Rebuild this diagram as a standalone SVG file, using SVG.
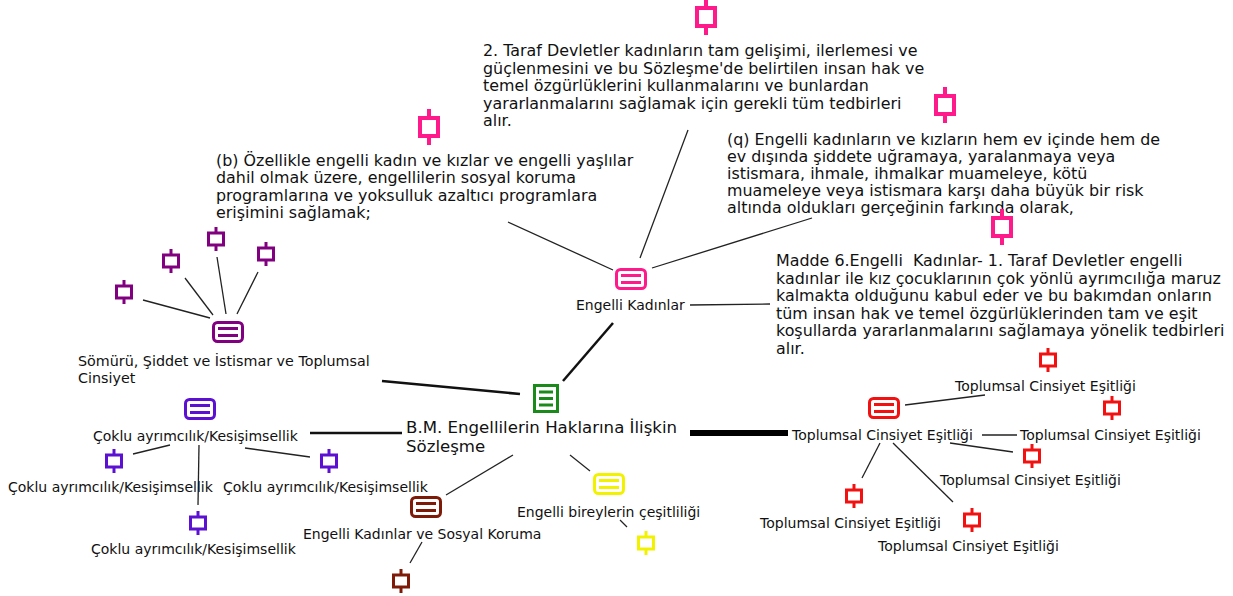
<svg xmlns="http://www.w3.org/2000/svg" width="1233" height="596" viewBox="0 0 1233 596">
<style>
text{font-family:"DejaVu Sans",Verdana,sans-serif;font-size:14px;fill:#111}
.c{font-size:16.6px}
.t{font-size:15.9px}
.s{font-size:14.3px}
.e{stroke:#222;stroke-width:1.3;fill:none}
.e2{stroke:#111;stroke-width:2.5;fill:none}
.e6{stroke:#000;stroke-width:6;fill:none}
</style>
<defs>
<g id="list" fill="#fff" stroke-width="3">
<rect x="-14.5" y="-9.5" width="29" height="19" rx="4"/>
<line x1="-10" y1="-3.5" x2="10" y2="-3.5"/>
<line x1="-10" y1="3.5" x2="10" y2="3.5"/>
</g>
<g id="code" fill="#fff" stroke-width="3">
<line x1="0" y1="-12" x2="0" y2="-7"/>
<line x1="0" y1="7" x2="0" y2="12"/>
<rect x="-7.5" y="-6" width="15" height="12"/>
</g>
<g id="codeB" fill="#fff" stroke-width="4">
<line x1="0" y1="-18" x2="0" y2="-10"/>
<line x1="0" y1="10" x2="0" y2="18"/>
<rect x="-9" y="-9" width="18" height="18"/>
</g>
</defs>
<g id="connectors">
<line class="e2" x1="563" y1="381" x2="613" y2="323"/>
<line class="e2" x1="382" y1="381" x2="520" y2="394"/>
<line class="e2" x1="310" y1="433" x2="402" y2="433"/>
<line class="e6" x1="690" y1="433" x2="788" y2="433"/>
<line class="e" x1="513" y1="455" x2="446" y2="495"/>
<line class="e" x1="570" y1="455" x2="590" y2="471"/>
<line class="e" x1="640" y1="258" x2="688" y2="130"/>
<line class="e" x1="508" y1="222" x2="613" y2="270"/>
<line class="e" x1="652" y1="268" x2="812" y2="218"/>
<line class="e" x1="690" y1="305" x2="770" y2="304"/>
<line class="e" x1="143" y1="300" x2="210" y2="318"/>
<line class="e" x1="185" y1="278" x2="213" y2="315"/>
<line class="e" x1="217" y1="257" x2="226" y2="314"/>
<line class="e" x1="258" y1="272" x2="237" y2="314"/>
<line class="e" x1="133" y1="454" x2="170" y2="445"/>
<line class="e" x1="199" y1="445" x2="198" y2="505"/>
<line class="e" x1="245" y1="448" x2="310" y2="457"/>
<line class="e" x1="422" y1="542" x2="410" y2="563"/>
<line class="e" x1="620" y1="520" x2="627" y2="527"/>
<line class="e" x1="905" y1="405" x2="985" y2="395"/>
<line class="e" x1="982" y1="435" x2="1017" y2="435"/>
<line class="e" x1="950" y1="443" x2="1013" y2="452"/>
<line class="e" x1="880" y1="443" x2="862" y2="478"/>
<line class="e" x1="893" y1="443" x2="953" y2="502"/>
</g>
<g id="n-central">
<rect x="534.5" y="385.5" width="23" height="26" fill="#fff" stroke="#1a8a1a" stroke-width="3"/>
<g stroke="#1a8a1a" stroke-width="3"><line x1="539" y1="392" x2="553" y2="392"/><line x1="539" y1="398.5" x2="553" y2="398.5"/><line x1="539" y1="405" x2="553" y2="405"/></g>
<text class="c" x="406" y="433">B.M. Engellilerin Haklarına İlişkin</text>
<text class="c" x="406" y="452">Sözleşme</text>
</g>
<g id="n-kadinlar">
<use href="#list" x="631" y="279" stroke="#ff1a8c"/>
<text x="576" y="310">Engelli Kadınlar</text>
</g>
<g id="n-madde2">
<use href="#codeB" x="706" y="17" stroke="#ff1a8c"/>
<text class="t" x="483" y="56">2. Taraf Devletler kadınların tam gelişimi, ilerlemesi ve</text>
<text class="t" x="483" y="73.6">güçlenmesini ve bu Sözleşme'de belirtilen insan hak ve</text>
<text class="t" x="483" y="91.2">temel özgürlüklerini kullanmalarını ve bunlardan</text>
<text class="t" x="483" y="108.8">yararlanmalarını sağlamak için gerekli tüm tedbirleri</text>
<text class="t" x="483" y="126.4">alır.</text>
</g>
<g id="n-q">
<use href="#codeB" x="945" y="105" stroke="#ff1a8c"/>
<text class="t" x="727" y="145">(q) Engelli kadınların ve kızların hem ev içinde hem de</text>
<text class="t" x="727" y="162">ev dışında şiddete uğramaya, yaralanmaya veya</text>
<text class="t" x="727" y="179">istismara, ihmale, ihmalkar muameleye, kötü</text>
<text class="t" x="727" y="196">muameleye veya istismara karşı daha büyük bir risk</text>
<text class="t" x="727" y="213">altında oldukları gerçeğinin farkında olarak,</text>
</g>
<g id="n-b">
<use href="#codeB" x="429" y="127" stroke="#ff1a8c"/>
<text class="t" x="216" y="166">(b) Özellikle engelli kadın ve kızlar ve engelli yaşlılar</text>
<text class="t" x="216" y="183.3">dahil olmak üzere, engellilerin sosyal koruma</text>
<text class="t" x="216" y="200.6">programlarına ve yoksulluk azaltıcı programlara</text>
<text class="t" x="216" y="218">erişimini sağlamak;</text>
</g>
<g id="n-madde6">
<use href="#codeB" x="1002" y="227" stroke="#ff1a8c"/>
<text class="t" x="776" y="266" xml:space="preserve">Madde 6.Engelli  Kadınlar- 1. Taraf Devletler engelli</text>
<text class="t" x="776" y="283.6">kadınlar ile kız çocuklarının çok yönlü ayrımcılığa maruz</text>
<text class="t" x="776" y="301.2">kalmakta olduğunu kabul eder ve bu bakımdan onların</text>
<text class="t" x="776" y="318.8">tüm insan hak ve temel özgürlüklerinden tam ve eşit</text>
<text class="t" x="776" y="336.4">koşullarda yararlanmalarını sağlamaya yönelik tedbirleri</text>
<text class="t" x="776" y="354">alır.</text>
</g>
<g id="n-somuru">
<use href="#list" x="228" y="332" stroke="#800080"/>
<text class="s" x="78" y="366">Sömürü, Şiddet ve İstismar ve Toplumsal</text>
<text class="s" x="78" y="383">Cinsiyet</text>
</g>
<g id="n-somuru-1"><use href="#code" x="124" y="292" stroke="#800080"/></g>
<g id="n-somuru-2"><use href="#code" x="171" y="261" stroke="#800080"/></g>
<g id="n-somuru-3"><use href="#code" x="216" y="239" stroke="#800080"/></g>
<g id="n-somuru-4"><use href="#code" x="266" y="254" stroke="#800080"/></g>
<g id="n-coklu">
<use href="#list" x="200" y="409" stroke="#5c10d2"/>
<text x="93" y="441">Çoklu ayrımcılık/Kesişimsellik</text>
</g>
<g id="n-coklu-1">
<use href="#code" x="114" y="461" stroke="#5c10d2"/>
<text x="8" y="492">Çoklu ayrımcılık/Kesişimsellik</text>
</g>
<g id="n-coklu-2">
<use href="#code" x="329" y="461" stroke="#5c10d2"/>
<text x="223" y="492">Çoklu ayrımcılık/Kesişimsellik</text>
</g>
<g id="n-coklu-3">
<use href="#code" x="198" y="523" stroke="#5c10d2"/>
<text x="91" y="554">Çoklu ayrımcılık/Kesişimsellik</text>
</g>
<g id="n-sosyal">
<use href="#list" x="426" y="507" stroke="#7d1a08"/>
<text x="303" y="539">Engelli Kadınlar ve Sosyal Koruma</text>
</g>
<g id="n-sosyal-1"><use href="#code" x="401" y="581" stroke="#7d1a08"/></g>
<g id="n-cesit">
<use href="#list" x="609" y="484" stroke="#f2f200"/>
<text x="517" y="517">Engelli bireylerin çeşitliliği</text>
</g>
<g id="n-cesit-1"><use href="#code" x="646" y="543" stroke="#f2f200"/></g>
<g id="n-toplumsal">
<use href="#list" x="884" y="408" stroke="#f21010"/>
<text x="792" y="440">Toplumsal Cinsiyet Eşitliği</text>
</g>
<g id="n-top-1">
<use href="#code" x="1048" y="360" stroke="#f21010"/>
<text x="955" y="391">Toplumsal Cinsiyet Eşitliği</text>
</g>
<g id="n-top-2">
<use href="#code" x="1112" y="408" stroke="#f21010"/>
<text x="1020" y="440">Toplumsal Cinsiyet Eşitliği</text>
</g>
<g id="n-top-3">
<use href="#code" x="1032" y="456" stroke="#f21010"/>
<text x="940" y="485">Toplumsal Cinsiyet Eşitliği</text>
</g>
<g id="n-top-4">
<use href="#code" x="854" y="496" stroke="#f21010"/>
<text x="760" y="528">Toplumsal Cinsiyet Eşitliği</text>
</g>
<g id="n-top-5">
<use href="#code" x="972" y="520" stroke="#f21010"/>
<text x="878" y="551">Toplumsal Cinsiyet Eşitliği</text>
</g>
</svg>
